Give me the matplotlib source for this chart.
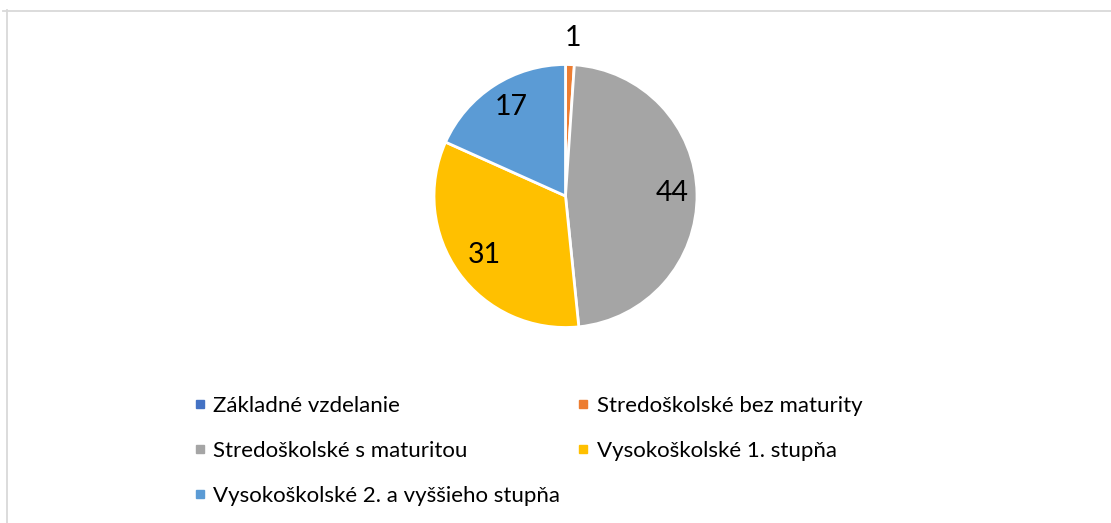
import numpy as np
import matplotlib.pyplot as plt
from matplotlib.lines import Line2D

plt.rcParams['font.family'] = ['Lato', 'DejaVu Sans']

categories = ['Základné vzdelanie', 'Stredoškolské bez maturity',
              'Stredoškolské s maturitou', 'Vysokoškolské 1. stupňa',
              'Vysokoškolské 2. a vyššieho stupňa']
values = [0, 1, 44, 31, 17]
colors = ['#4472C4', '#ED7D31', '#A5A5A5', '#FFC000', '#5B9BD5']

W, H = 1111, 523
fig = plt.figure(figsize=(W / 100, H / 100), dpi=100)

# chart frame (open to the right / bottom as in the crop)
fig.add_artist(Line2D([3 / W, 1], [1 - 10.5 / H, 1 - 10.5 / H], color='#D9D9D9', lw=1.3))
fig.add_artist(Line2D([6.5 / W, 6.5 / W], [1 - 10 / H, 0], color='#D9D9D9', lw=1.3))

cx, cy, r = 565.5, 196, 131.5
ax = fig.add_axes([(cx - r) / W, (H - cy - r) / H, 2 * r / W, 2 * r / H])
wedges, _ = ax.pie(values, colors=colors, startangle=90, counterclock=False,
                   wedgeprops=dict(edgecolor='white', linewidth=2))
ax.set_xlim(-1, 1)
ax.set_ylim(-1, 1)
ax.axis('off')

for w, v in zip(wedges, values):
    if v == 0:
        continue
    ang = np.deg2rad((w.theta1 + w.theta2) / 2)
    rr = 1.19 if v < 3 else 0.79
    ax.text(rr * np.cos(ang) + 0.02, rr * np.sin(ang) + 0.01, str(v), ha='center', va='center',
            fontsize=20.5, color='black', clip_on=False)

handles = [Line2D([], [], marker='s', color=c, linestyle='none', markersize=5.5) for c in colors]
order = [0, 2, 4, 1, 3]
fig.legend([handles[i] for i in order], [categories[i] for i in order], ncol=2,
           loc='upper left', bbox_to_anchor=(193 / W, 1 - 396 / H), frameon=False,
           fontsize=16, handlelength=0.6, handletextpad=0.3, labelspacing=1.12,
           columnspacing=0.75, borderaxespad=0, borderpad=0)

fig.savefig('out.png', dpi=100)
